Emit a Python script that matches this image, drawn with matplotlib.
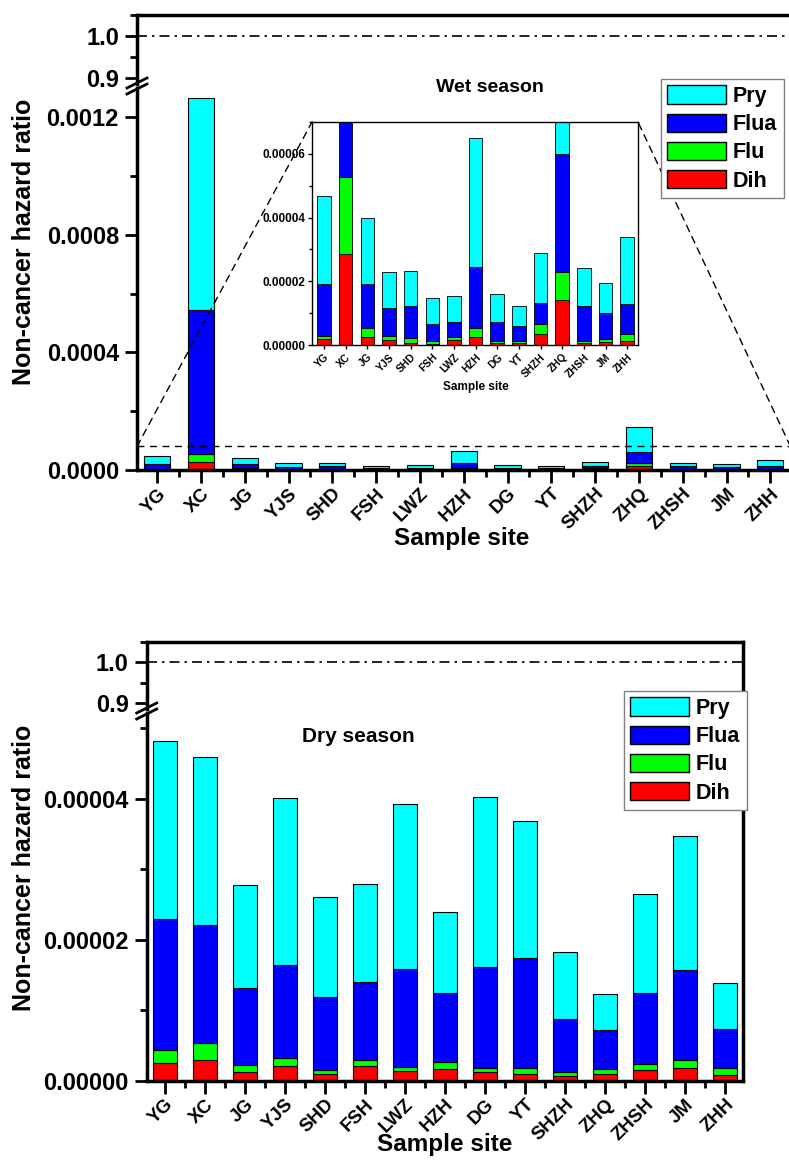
import matplotlib
matplotlib.use("Agg")
import matplotlib.pyplot as plt
import numpy as np
from matplotlib.patches import ConnectionPatch, Patch
from matplotlib.lines import Line2D
from matplotlib.ticker import FixedLocator, MultipleLocator

plt.rcParams["font.family"] = ["Liberation Sans", "DejaVu Sans"]
plt.rcParams["font.weight"] = "bold"
plt.rcParams["axes.labelweight"] = "bold"

sites = ["YG", "XC", "JG", "YJS", "SHD", "FSH", "LWZ", "HZH", "DG", "YT",
         "SHZH", "ZHQ", "ZHSH", "JM", "ZHH"]
components = ["Dih", "Flu", "Flua", "Pry"]
colors = {"Dih": "#ff0000", "Flu": "#00ff00", "Flua": "#0000ff", "Pry": "#00ffff"}

# wet season (segment values, not cumulative)
wet_dih = [1.8e-6, 2.86e-5, 2.4e-6, 1.6e-6, 0.6e-6, 0.4e-6, 1.6e-6, 2.5e-6,
           0.5e-6, 0.5e-6, 3.5e-6, 1.40e-5, 0.5e-6, 0.8e-6, 1.35e-6]
wet_flu = [1.1e-6, 2.42e-5, 2.8e-6, 1.2e-6, 1.7e-6, 0.75e-6, 0.9e-6, 2.7e-6,
           0.85e-6, 0.85e-6, 3.0e-6, 8.8e-6, 0.65e-6, 1.0e-6, 1.95e-6]
wet_flua = [1.62e-5, 4.92e-4, 1.40e-5, 8.7e-6, 9.8e-6, 5.35e-6, 4.7e-6, 1.94e-5,
            5.85e-6, 4.65e-6, 6.8e-6, 3.71e-5, 1.10e-5, 8.4e-6, 9.6e-6]
wet_pry = [2.76e-5, 7.21e-4, 2.06e-5, 1.14e-5, 1.10e-5, 8.3e-6, 8.3e-6, 4.05e-5,
           8.9e-6, 6.1e-6, 1.56e-5, 8.72e-5, 1.20e-5, 9.4e-6, 2.11e-5]

# dry season
dry_dih = [2.5e-6, 2.9e-6, 1.2e-6, 2.1e-6, 0.9e-6, 2.1e-6, 1.4e-6, 1.6e-6,
           1.3e-6, 1.0e-6, 0.7e-6, 0.9e-6, 1.5e-6, 1.8e-6, 0.8e-6]
dry_flu = [1.9e-6, 2.4e-6, 1.0e-6, 1.1e-6, 0.6e-6, 0.9e-6, 0.5e-6, 1.0e-6,
           0.5e-6, 0.8e-6, 0.5e-6, 0.8e-6, 0.8e-6, 1.1e-6, 1.0e-6]
dry_flua = [1.85e-5, 1.68e-5, 1.09e-5, 1.32e-5, 1.04e-5, 1.10e-5, 1.40e-5, 9.9e-6,
            1.44e-5, 1.56e-5, 7.5e-6, 5.5e-6, 1.01e-5, 1.28e-5, 5.5e-6]
dry_pry = [2.53e-5, 2.38e-5, 1.47e-5, 2.37e-5, 1.42e-5, 1.39e-5, 2.34e-5, 1.14e-5,
           2.41e-5, 1.94e-5, 9.6e-6, 5.1e-6, 1.41e-5, 1.91e-5, 6.5e-6]

W, H = 789, 1160
fig = plt.figure(figsize=(W / 100, H / 100), dpi=100)


def box(x0, y0, x1, y1):
    # pixel box (top-left origin) -> figure fraction rect
    return [x0 / W, 1 - y1 / H, (x1 - x0) / W, (y1 - y0) / H]


def stack(ax, series, width, lw=0.8):
    x = np.arange(len(sites))
    bottom = np.zeros(len(sites))
    for name, vals in zip(components, series):
        ax.bar(x, vals, width, bottom=bottom, color=colors[name],
               edgecolor="black", linewidth=lw)
        bottom += np.array(vals)


def style(ax, major=9, minor=5, width=2, size=17):
    ax.tick_params(which="major", direction="out", length=major, width=width,
                   labelsize=size, pad=4)
    ax.tick_params(which="minor", direction="out", length=minor, width=width)
    for s in ax.spines.values():
        s.set_linewidth(2.5)


def panel(y_top, y_brk, y_bot, x0, x1, xlim, lims, low_ticks, low_fmt, minor_step,
          series, show_right):
    up = fig.add_axes(box(x0, y_top, x1, y_brk - 4))
    lo = fig.add_axes(box(x0, y_brk, x1, y_bot))
    for ax in (up, lo):
        ax.set_xlim(*xlim)
        style(ax)
        ax.spines["right"].set_visible(show_right)
    up.spines["bottom"].set_visible(False)
    lo.spines["top"].set_visible(False)
    up.set_ylim(0.886, 1.05)
    up.set_yticks([0.9, 1.0])
    up.set_yticklabels(["0.9", "1.0"])
    up.yaxis.set_minor_locator(FixedLocator([0.95, 1.05]))
    up.set_xticks([])
    up.axhline(1.0, color="black", lw=1.2, ls=(0, (6, 3, 1.5, 3)))
    lo.set_ylim(*lims)
    lo.set_yticks(low_ticks)
    lo.set_yticklabels([low_fmt.format(t) for t in low_ticks])
    lo.yaxis.set_minor_locator(MultipleLocator(minor_step))
    lo.set_xticks(np.arange(len(sites)))
    lo.set_xticklabels(sites, rotation=45, ha="right", rotation_mode="anchor",
                       fontsize=13.5)
    lo.tick_params(axis="x", pad=2)
    lo.xaxis.set_minor_locator(FixedLocator(np.arange(-0.5, 15, 1.0)))
    stack(lo, series, 0.6)
    # break marks
    for dy in (-3, 3):
        fig.add_artist(Line2D([(x0 - 10) / W, (x0 + 10) / W],
                              [1 - (y_brk - 2 + dy + 5) / H, 1 - (y_brk - 2 + dy - 5) / H],
                              color="black", lw=2))
    return up, lo


# ---- wet season ----
up1, lo1 = panel(15, 88, 470, 137, 790.5, (-0.46, 14.46), (0, 0.0013),
                 [0, 0.0004, 0.0008, 0.0012], "{:.4f}", 0.0002,
                 [wet_dih, wet_flu, wet_flua, wet_pry], False)
up1.spines["right"].set_visible(False)
lo1.axhline(8e-5, color="black", lw=1, ls=(0, (5, 4)))
fig.text(490 / W, 1 - 88 / H, "Wet season", ha="center", va="center",
         fontsize=14, fontweight="bold")

ins = fig.add_axes(box(312, 122, 638, 345))
stack(ins, [wet_dih, wet_flu, wet_flua, wet_pry], 0.62, lw=0.6)
ins.set_xlim(-0.55, 14.5)
ins.set_ylim(0, 7e-5)
ins.set_yticks([0, 2e-5, 4e-5, 6e-5])
ins.set_yticklabels(["0.00000", "0.00002", "0.00004", "0.00006"])
ins.yaxis.set_minor_locator(MultipleLocator(1e-5))
ins.set_xticks(np.arange(len(sites)))
ins.set_xticklabels(sites, rotation=45, ha="right", rotation_mode="anchor")
ins.tick_params(which="major", direction="out", length=3, width=1, labelsize=8.5,
                pad=2)
ins.tick_params(axis="x", labelsize=7.5)
ins.tick_params(which="minor", direction="out", length=2, width=1)
for s in ins.spines.values():
    s.set_linewidth(1)
fig.text(476 / W, 1 - 387 / H, "Sample site", ha="center", va="center",
         fontsize=8.5, fontweight="bold")

for xa, xb in ((-0.46, (0, 1)), (14.46, (1, 1))):
    fig.add_artist(ConnectionPatch(xyA=(xa, 8e-5), coordsA=lo1.transData,
                                   xyB=xb, coordsB=ins.transAxes,
                                   color="black", lw=1, ls=(0, (5, 4))))

handles = [Patch(facecolor=colors[c], edgecolor="black", label=c)
           for c in ["Pry", "Flua", "Flu", "Dih"]]


def legend(x, y):
    fig.legend(handles=handles, loc="upper left", bbox_to_anchor=(x / W, 1 - y / H),
               fontsize=15.5, frameon=True, fancybox=False, edgecolor="gray",
               framealpha=1, handlelength=2.7, handleheight=0.95,
               handletextpad=0.35, labelspacing=0.3, borderpad=0.3,
               borderaxespad=0)


legend(661, 79)
fig.text(24 / W, 1 - 242 / H, "Non-cancer hazard ratio", rotation=90,
         ha="center", va="center", fontsize=18, fontweight="bold")
fig.text(462 / W, 1 - 538 / H, "Sample site", ha="center", va="center",
         fontsize=17.5, fontweight="bold")

# ---- dry season ----
up2, lo2 = panel(642, 713, 1080.7, 146.7, 743, (-0.46, 14.45), (0, 5.22e-5),
                 [0, 2e-5, 4e-5], "{:.5f}", 1e-5,
                 [dry_dih, dry_flu, dry_flua, dry_pry], True)
fig.text(358 / W, 1 - 736 / H, "Dry season", ha="center", va="center",
         fontsize=15, fontweight="bold")
legend(624, 691)
fig.text(24 / W, 1 - 868 / H, "Non-cancer hazard ratio", rotation=90,
         ha="center", va="center", fontsize=18, fontweight="bold")
fig.text(445 / W, 1 - 1145 / H, "Sample site", ha="center", va="center",
         fontsize=17.5, fontweight="bold")

fig.savefig("out.png", dpi=100)
